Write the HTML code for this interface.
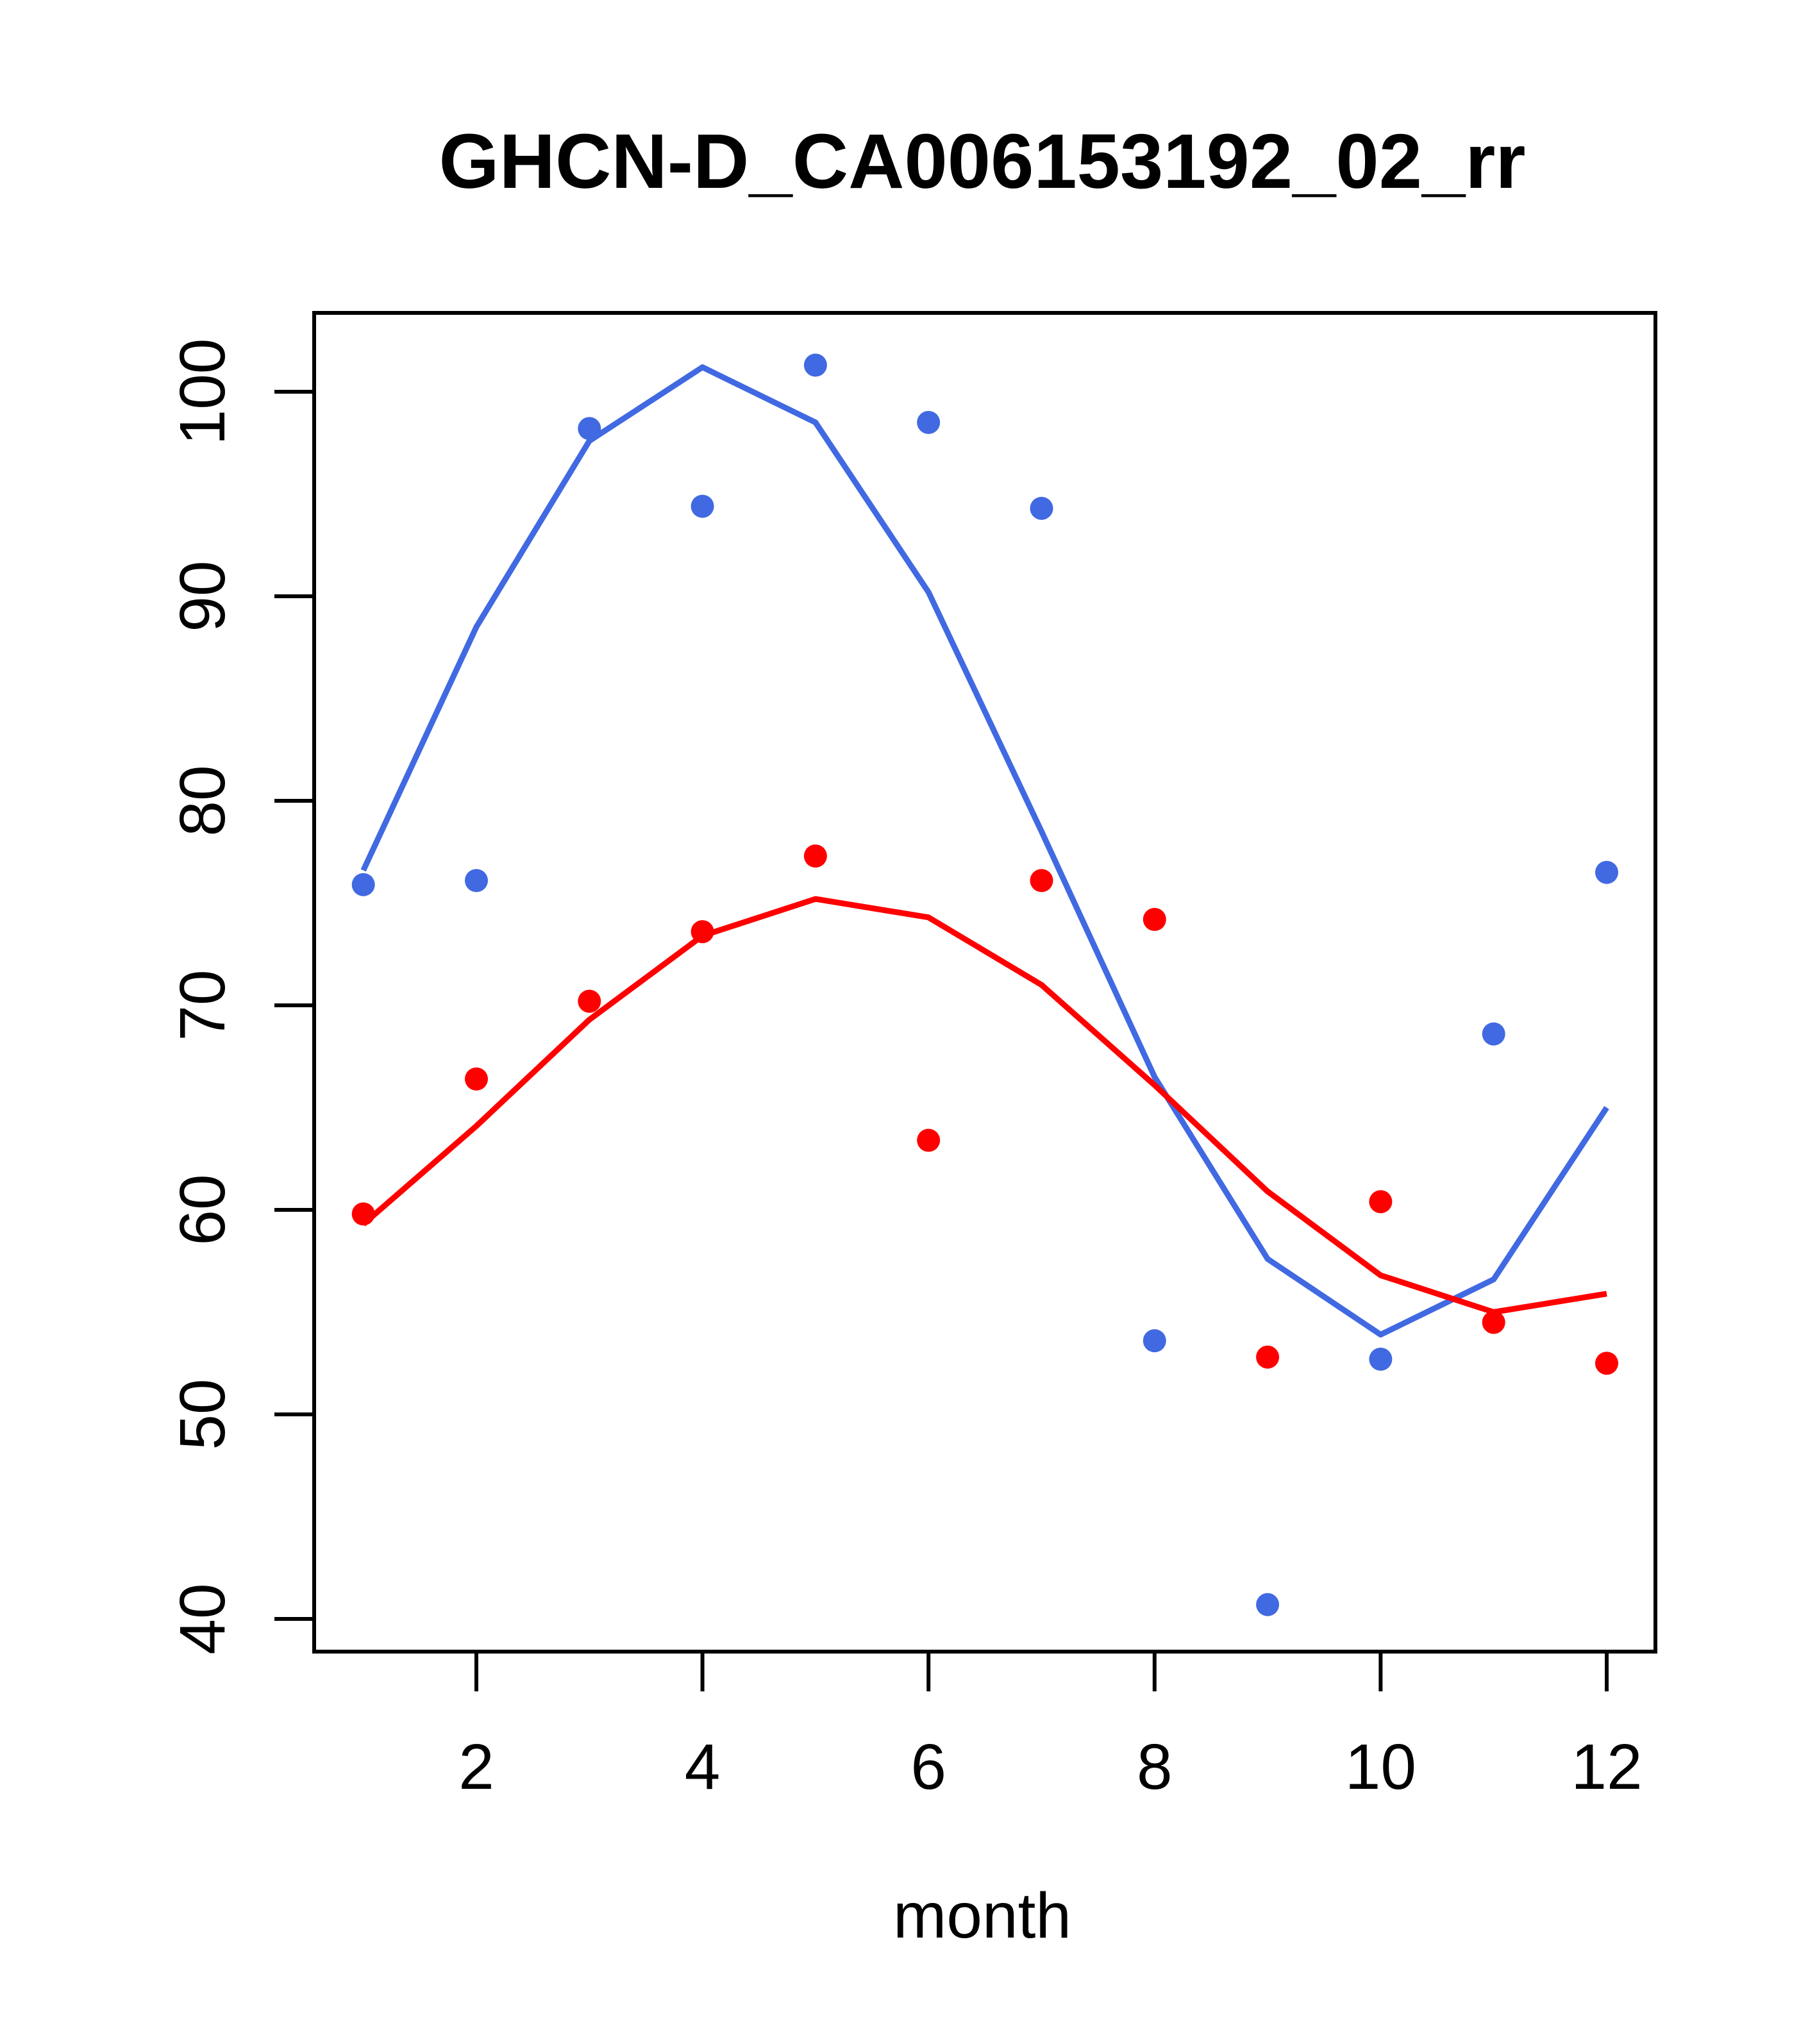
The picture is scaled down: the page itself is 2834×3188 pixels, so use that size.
<!DOCTYPE html>
<html><head><meta charset="utf-8"><style>html,body{margin:0;padding:0;background:#fff}svg{display:block}</style></head>
<body>
<svg id="chart" width="2834" height="3188" viewBox="0 0 2834 3188" xmlns="http://www.w3.org/2000/svg" font-family="Liberation Sans, sans-serif">
<rect width="2834" height="3188" fill="#fff"/>
<text x="1532" y="293" font-size="121" font-weight="bold" text-anchor="middle">GHCN-D_CA006153192_02_rr</text>
<text x="1532" y="3022" font-size="100" text-anchor="middle">month</text>
<g id="axes"></g>
<g id="marks"></g>
<rect x="490" y="488" width="2092" height="2088" fill="none" stroke="#000" stroke-width="6"/>
</svg>
<script>
const months=[1,2,3,4,5,6,7,8,9,10,11,12];
const bluePoints=[75.9,76.1,98.2,94.4,101.3,98.5,94.3,53.6,40.7,52.7,68.6,76.5];
const blueLine=[76.6,88.5,97.6,101.2,98.5,90.2,78.5,66.5,57.6,53.9,56.6,65.0];
const redPoints=[59.8,66.4,70.2,73.6,77.3,63.4,76.1,74.2,52.8,60.4,54.5,52.5];
const redLine=[59.3,64.1,69.3,73.4,75.2,74.3,71.0,66.1,60.9,56.8,55.0,55.9];
const xTicks=[2,4,6,8,10,12];
const yTicks=[40,50,60,70,80,90,100];
const NS='http://www.w3.org/2000/svg';
function X(v){return 743+(v-2)*176.3;}
function Y(v){return 611+(100-v)*31.9;}
const axes=document.getElementById('axes'),marks=document.getElementById('marks');
function mk(tag,attrs,parent){const e=document.createElementNS(NS,tag);for(const k in attrs)e.setAttribute(k,attrs[k]);parent.appendChild(e);return e;}
xTicks.forEach(t=>{
  const l=mk('line',{x1:X(t),x2:X(t),y1:2576,y2:2638,stroke:'#000','stroke-width':6},axes);
  
  
  const tx=mk('text',{x:X(t),y:2790,'font-size':100,'text-anchor':'middle'},axes);
  tx.textContent=t;
  
  
});
yTicks.forEach(t=>{
  const l=mk('line',{x1:428,x2:490,y1:Y(t),y2:Y(t),stroke:'#000','stroke-width':6},axes);
  
  
  const tx=mk('text',{x:0,y:0,'font-size':100,'text-anchor':'middle',transform:`translate(350,${Y(t)}) rotate(-90)`},axes);
  tx.textContent=t;
  
  
});
function line(vals,color,name){
  const p=mk('polyline',{points:months.map((m,i)=>X(m)+','+Y(vals[i])).join(' '),fill:'none',stroke:color,'stroke-width':9,'stroke-linejoin':'round'},marks);
  
  
}
function pts(vals,color,name){
  months.forEach((m,i)=>{
    const c=mk('circle',{cx:X(m),cy:Y(vals[i]),r:18,fill:color},marks);
    
    
  });
}
line(blueLine,'#4169E1','blue-smooth-line');
line(redLine,'#FF0000','red-smooth-line');
pts(bluePoints,'#4169E1','blue-point');
pts(redPoints,'#FF0000','red-point');
</script>
</body></html>
